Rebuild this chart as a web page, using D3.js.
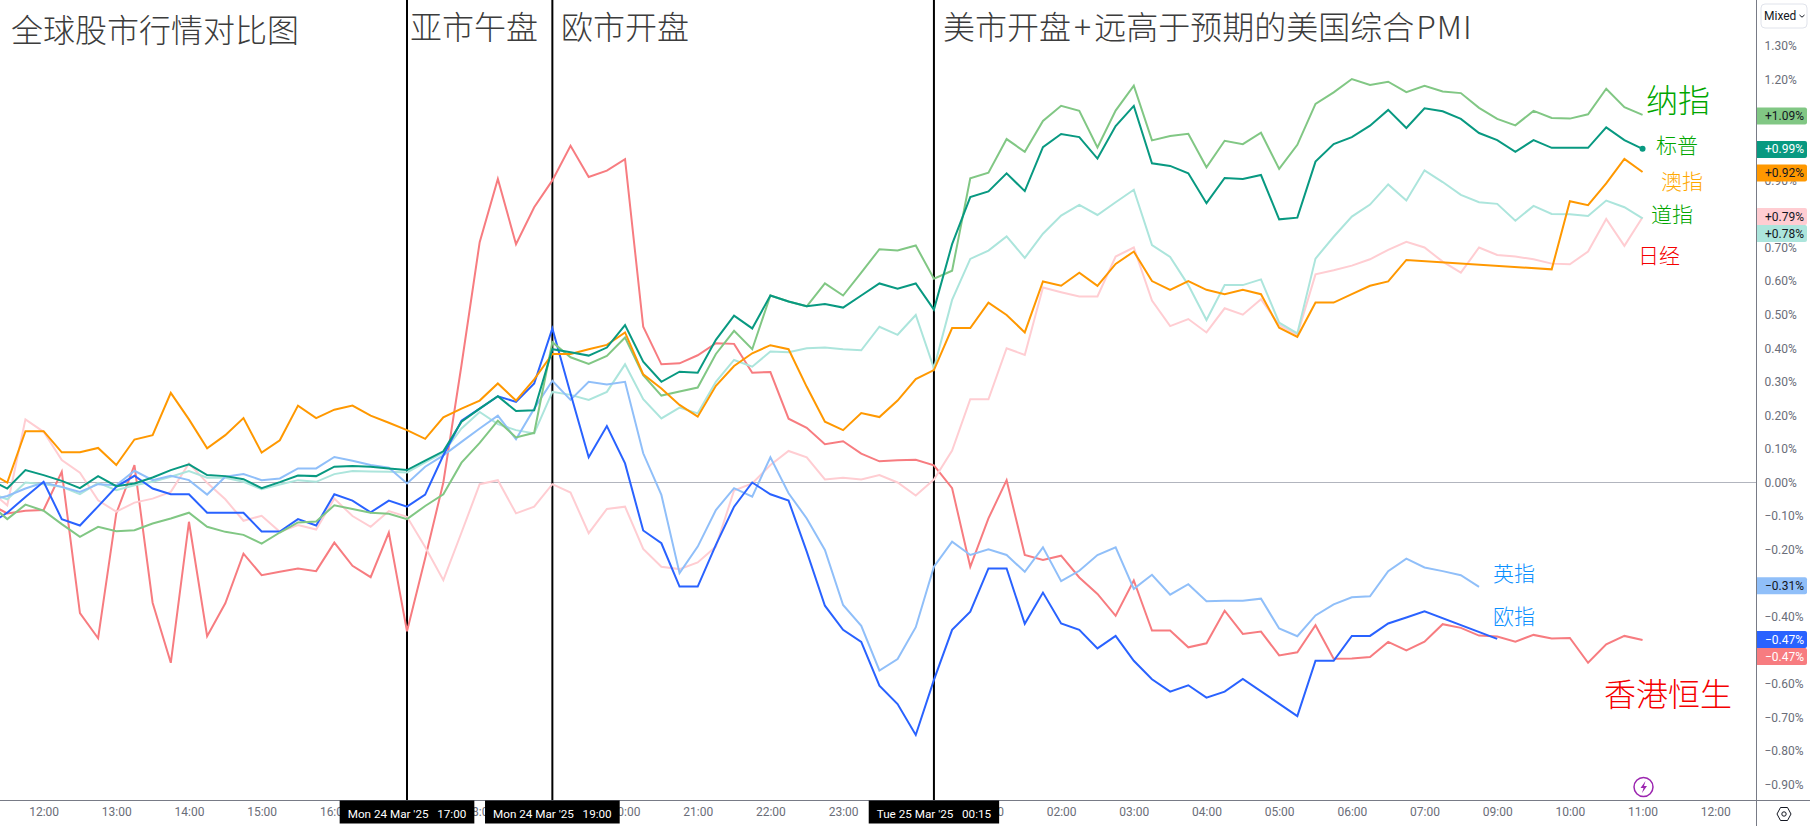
<!DOCTYPE html>
<html><head><meta charset="utf-8">
<script src="https://cdnjs.cloudflare.com/ajax/libs/d3/7.8.5/d3.min.js"></script>
<style>html,body{margin:0;padding:0;background:#fff;overflow:hidden}svg{display:block}</style>
</head><body><svg id="c" width="1810" height="826"></svg>
<script>
// first point of every series sits three 15-minute bars before the 12:00 label
const firstBar = -3;
const hsi = [-.063,-.092,-.084,-.082,.032,-.389,-.464,-.092,.052,-.358,-.537,-.117,-.458,-.36,-.212,-.276,-.266,-.256,-.264,-.179,-.248,-.282,-.149,-.443,-.226,0,.35,.716,.904,.71,.82,.90,1.003,.91,.929,.963,.464,.352,.355,.379,.415,.413,.327,.329,.19,.163,.114,.123,.086,.063,.066,.068,.051,-.017,-.251,-.107,.007,-.216,-.231,-.218,-.283,-.332,-.397,-.292,-.441,-.441,-.491,-.479,-.382,-.451,-.444,-.515,-.506,-.425,-.525,-.524,-.52,-.475,-.50,-.474,-.422,-.433,-.456,-.459,-.474,-.454,-.465,-.463,-.537,-.482,-.457,-.469];
const nikkei = [-.023,-.068,.188,.151,.067,.029,-.053,-.087,-.06,-.048,-.028,.057,-.001,-.05,-.114,-.099,-.147,-.127,-.14,-.048,-.10,-.132,-.085,-.102,-.192,-.291,-.149,-.005,.007,-.092,-.072,-.005,-.03,-.151,-.079,-.072,-.198,-.251,-.258,-.238,-.191,-.024,-.003,.052,.094,.075,.009,.014,.009,.022,0,-.039,.009,.095,.248,.248,.40,.38,.581,.567,.554,.554,.673,.70,.542,.466,.487,.447,.519,.50,.546,.469,.44,.62,.632,.646,.665,.693,.717,.70,.658,.625,.70,.678,.673,.665,.652,.65,.688,.785,.705,.79];
const dow = [-.03,-.05,0,-.005,-.013,-.035,-.001,-.023,-.008,.002,.017,.034,.014,.014,.002,-.02,-.006,.007,.002,.025,.034,.033,.032,.03,.06,.089,.161,.21,.174,.156,.146,.27,.261,.246,.27,.352,.248,.191,.223,.206,.30,.365,.345,.39,.388,.40,.402,.397,.394,.464,.44,.499,.34,.544,.666,.691,.733,.669,.741,.795,.827,.797,.835,.872,.707,.672,.588,.484,.588,.588,.605,.476,.444,.667,.732,.792,.828,.888,.84,.93,.895,.857,.835,.83,.78,.824,.80,.799,.794,.84,.82,.787];
const ftse = [-.053,-.04,-.018,0,-.013,-.028,-.005,-.008,.035,.007,.02,.007,-.036,.017,.025,.007,.012,.042,.042,.076,.065,.052,.044,-.003,.047,.081,.121,.161,.199,.129,.22,.303,.246,.30,.292,.30,.087,-.037,-.27,-.191,-.082,-.017,-.042,.075,-.032,-.107,-.201,-.365,-.427,-.56,-.526,-.431,-.251,-.176,-.216,-.199,-.216,-.266,-.193,-.294,-.263,-.216,-.193,-.317,-.275,-.334,-.303,-.354,-.352,-.352,-.346,-.435,-.458,-.396,-.363,-.342,-.339,-.264,-.227,-.253,-.264,-.276,-.311,null,null,null,null,null,null,null,null,null];
const euro = [-.125,-.09,-.043,.002,-.109,-.128,-.071,-.013,.02,-.018,-.035,-.035,-.09,-.09,-.09,-.146,-.146,-.109,-.128,-.035,-.054,-.089,-.054,-.072,-.036,.081,.184,.22,.257,.24,.295,.459,.265,.075,.168,.057,-.143,-.181,-.31,-.31,-.186,-.072,0,-.035,-.054,-.206,-.367,-.439,-.475,-.605,-.66,-.752,-.588,-.439,-.385,-.256,-.256,-.421,-.328,-.42,-.439,-.494,-.457,-.531,-.586,-.623,-.604,-.641,-.623,-.585,null,null,-.696,-.531,-.531,-.457,-.457,-.42,-.402,-.384,null,null,null,-.466,null,null,null,null,null,null,null,null];
const nasdaq = [-.063,-.109,-.066,-.084,-.124,-.162,-.132,-.145,-.142,-.122,-.107,-.09,-.132,-.147,-.156,-.182,-.149,-.119,-.116,-.068,-.079,-.09,-.093,-.109,-.07,-.035,.059,.118,.184,.134,.148,.418,.373,.353,.377,.432,.32,.259,.271,.283,.383,.452,.397,.557,.539,.525,.593,.557,.625,.695,.691,.706,.607,.631,.906,.923,1.023,.985,1.077,1.122,1.107,.998,1.108,1.182,1.019,1.032,1.039,.939,1.018,1.008,1.042,.934,1.006,1.128,1.162,1.202,1.184,1.194,1.163,1.182,1.165,1.16,1.116,1.083,1.064,1.107,1.086,1.084,1.097,1.173,1.118,1.095];
const asx = [.03,0,.153,.153,.09,.09,.103,.052,.128,.141,.267,.188,.102,.141,.192,.089,.126,.229,.192,.217,.229,.199,.178,.156,.130,.194,.220,.244,.295,.244,.307,.383,.383,.397,.41,.447,.322,.28,.231,.196,.288,.347,.385,.409,.397,.285,.181,.156,.207,.195,.244,.308,.335,.46,.46,.536,.499,.447,.599,.586,.625,.586,.651,.688,.60,.574,.60,.574,.561,.574,.561,.461,.434,.536,.536,.561,.586,.599,.663,null,null,null,null,null,null,null,.635,.838,.826,.891,.964,.925];
const spx = [.01,-.018,.037,.022,.005,-.017,.019,-.011,-.003,.015,.037,.054,.022,.019,.01,-.017,.001,.021,.019,.047,.049,.047,.042,.037,.065,.093,.181,.22,.257,.213,.215,.397,.388,.378,.402,.469,.36,.30,.33,.327,.425,.497,.459,.557,.539,.525,.532,.521,.557,.593,.577,.593,.515,.71,.85,.867,.921,.868,.999,1.038,1.029,.965,1.062,1.122,.951,.943,.921,.832,.907,.904,.916,.784,.789,.956,1.008,1.029,1.063,1.11,1.056,1.115,1.106,1.083,1.041,1.02,.985,1.02,.997,.997,.997,1.058,1.02,.994];

const hourBars = [0,4,8,12,16,24,32,36,40,44,52,56,60,64,68,72,76,80,84,88,92];
const hourLabels = ["12:00","13:00","14:00","15:00","16:00","18:00","20:00","21:00","22:00","23:00","01:00","02:00","03:00","04:00","05:00","06:00","07:00","09:00","10:00","11:00","12:00"];
const priceTicks = [1.3,1.2,.9,.8,.7,.6,.5,.4,.3,.2,.1,0,-.1,-.2,-.4,-.6,-.7,-.8,-.9];
const markerBars = [20,28,49];
const markerLabels = ["Mon 24 Mar '25   17:00","Mon 24 Mar '25   19:00","Tue 25 Mar '25   00:15"];

const series = [
 {name:"HSI", values:hsi, color:"#f77c80", tag:-.47, tagText:"#fff"},
 {name:"NI", values:nikkei, color:"#ffcdd2", tag:.79, tagText:"#131722"},
 {name:"DJ", values:dow, color:"#ace5dc", tag:.78, tagText:"#131722"},
 {name:"FTSE", values:ftse, color:"#90bff9", tag:-.31, tagText:"#131722"},
 {name:"SX5E", values:euro, color:"#2962ff", tag:-.47, tagText:"#fff"},
 {name:"NDX", values:nasdaq, color:"#81c784", tag:1.09, tagText:"#131722"},
 {name:"ASX", values:asx, color:"#ff9800", tag:.92, tagText:"#131722"},
 {name:"SPX", values:spx, color:"#089981", tag:.99, tagText:"#fff"}
];

const W=1810,H=826,paneR=1756.5,paneB=800.5;
const svg=d3.select("#c");
const UI="Roboto, 'Noto Sans', sans-serif";
const CJK="'Noto Sans CJK SC', sans-serif";
const x=d3.scaleLinear().domain([0,92]).range([43.6,43.6+92*18.17]);
const y=d3.scaleLinear().domain([0,1.3]).range([482.5,46.1]);

svg.append("defs").append("clipPath").attr("id","pane").append("rect").attr("x",0).attr("y",0).attr("width",paneR).attr("height",paneB);

// zero line + session markers
svg.append("line").attr("x1",0).attr("x2",paneR).attr("y1",y(0)).attr("y2",y(0)).attr("stroke","#b2b5be").attr("stroke-width",1);
svg.selectAll("line.mark").data(markerBars).join("line").attr("class","mark")
 .attr("x1",d=>x(d)).attr("x2",d=>x(d)).attr("y1",0).attr("y2",paneB).attr("stroke","#000").attr("stroke-width",2);

// series
const line=d3.line().x(d=>x(d.b)).y(d=>y(d.v));
const pane=svg.append("g").attr("clip-path","url(#pane)");
series.forEach(s=>{
  const pts=s.values.map((v,i)=>({b:i+firstBar,v})).filter(d=>d.v!==null);
  pane.append("path").datum(pts).attr("d",line).attr("fill","none").attr("stroke",s.color).attr("stroke-width",2).attr("stroke-linejoin","miter").attr("stroke-miterlimit",4);
  s.pts=pts;
});
const spxLast=series[7].pts[series[7].pts.length-1];
pane.append("circle").attr("cx",x(spxLast.b)).attr("cy",y(spxLast.v)).attr("r",3).attr("fill","#089981");

// annotations
const notes=[
 {t:"全球股市行情对比图",x:11,y:28,s:32,c:"#3c3c3c"},
 {t:"亚市午盘",x:410,y:25,s:32,c:"#3c3c3c"},
 {t:"欧市开盘",x:561,y:25,s:32,c:"#3c3c3c"},
 {t:"纳指",x:1646,y:98,s:32,c:"#00a600"},
 {t:"标普",x:1656,y:144,s:21,c:"#00a600"},
 {t:"澳指",x:1661,y:180,s:21,c:"#ffa800"},
 {t:"道指",x:1651,y:213,s:21,c:"#00a600"},
 {t:"日经",x:1638,y:254,s:21,c:"#f50000"},
 {t:"香港恒生",x:1604,y:692,s:32,c:"#f50000"},
 {t:"英指",x:1493,y:572,s:21,c:"#0a90ff"},
 {t:"欧指",x:1493,y:615,s:21,c:"#0a90ff"}
];
svg.selectAll("text.note").data(notes).join("text").attr("class","note")
 .attr("x",d=>d.x).attr("y",d=>d.y).attr("font-size",d=>d.s).attr("fill",d=>d.c)
 .attr("dominant-baseline","central").attr("font-family",CJK).attr("font-weight",300).text(d=>d.t);
// the Latin glyphs of the long headline ran wider in the reference's font
const head=svg.append("text").attr("x",943).attr("y",25).attr("font-size",32).attr("fill","#3c3c3c")
 .attr("dominant-baseline","central").attr("font-family",CJK).attr("font-weight",300);
head.append("tspan").text("美市开盘");
head.append("tspan").attr("dx",3).style("letter-spacing","3px").text("+");
head.append("tspan").text("远高于预期的美国综合");
head.append("tspan").attr("dx",2).style("letter-spacing","1px").text("PMI");

// frame
svg.append("line").attr("x1",paneR).attr("x2",paneR).attr("y1",0).attr("y2",H).attr("stroke","#787b86").attr("stroke-width",1);
svg.append("line").attr("x1",0).attr("x2",W).attr("y1",paneB).attr("y2",paneB).attr("stroke","#787b86").attr("stroke-width",1);

// time axis
const xAxis=svg.append("g").attr("transform",`translate(0,${paneB})`)
 .call(d3.axisBottom(x).tickValues(hourBars).tickSize(0).tickPadding(7).tickFormat(d=>hourLabels[hourBars.indexOf(d)]));
xAxis.select(".domain").remove();
xAxis.selectAll("text").attr("font-family",UI).attr("font-size",12).attr("fill","#6a6d78");

// price axis (levels fully hidden by a value tag are not drawn)
const fmt=v=>(v<0?"\u2212":"")+Math.abs(v).toFixed(2)+"%";
const yAxis=svg.append("g").attr("transform",`translate(${paneR},0)`)
 .call(d3.axisRight(y).tickValues(priceTicks).tickSize(0).tickPadding(8).tickFormat(fmt));
yAxis.select(".domain").remove();
yAxis.selectAll("text").attr("font-family",UI).attr("font-size",12).attr("fill","#6a6d78");

// last-value tags, pushed apart downward when they would overlap
const tags=series.slice().sort((a,b)=>b.tag-a.tag||(a.name==="SX5E"?-1:1));
let prev=-100;
tags.forEach(s=>{s.ty=Math.max(y(s.tag)-.7,prev+17);prev=s.ty;});
const tg=svg.selectAll("g.tag").data(tags).join("g").attr("class","tag").attr("transform",d=>`translate(${paneR+.5},${d.ty})`);
tg.append("path").attr("d","M0,-8.5H48a2,2 0 0 1 2,2V6.5a2,2 0 0 1 -2,2H0Z").attr("fill",d=>d.color);
tg.append("text").attr("x",8).attr("y",0).attr("dominant-baseline","central").attr("font-family",UI).attr("font-size",12)
 .attr("fill",d=>d.tagText).text(d=>(d.tag<0?"\u2212":"+")+Math.abs(d.tag).toFixed(2)+"%");

// crosshair date boxes, sized to their text
const mk=svg.selectAll("g.box").data(markerBars).join("g").attr("class","box").attr("transform",d=>`translate(${x(d)},${paneB})`);
const bg=mk.append("rect").attr("y",0).attr("height",23).attr("fill","#000");
const bt=mk.append("text").attr("x",0).attr("y",13).attr("text-anchor","middle").attr("dominant-baseline","central").attr("xml:space","preserve")
 .style("white-space","pre").attr("font-family",UI).attr("font-size",11.7).attr("fill","#fff").text((d,i)=>markerLabels[i]);
bt.each(function(d,i){const w=this.getComputedTextLength()+16;d3.select(bg.nodes()[i]).attr("x",-w/2).attr("width",w);});

// Mixed button
svg.append("rect").attr("x",1761).attr("y",4).attr("width",46).attr("height",24).attr("rx",4).attr("fill","#fff").attr("stroke","#e0e3eb");
svg.append("text").attr("x",1764).attr("y",16).attr("dominant-baseline","central").attr("font-family",UI).attr("font-size",12).attr("fill","#131722").text("Mixed");
svg.append("path").attr("d","M1799.5,15l2.5,2.2l2.5,-2.2").attr("fill","none").attr("stroke","#131722").attr("stroke-width",1);

// gear
svg.append("path").attr("d","M1777,814l3.5,-6.5h7l3.5,6.5l-3.5,6.5h-7Z").attr("fill","none").attr("stroke","#131722").attr("stroke-width",1);
svg.append("circle").attr("cx",1784).attr("cy",814).attr("r",2.2).attr("fill","none").attr("stroke","#131722").attr("stroke-width",1);

// event icon
svg.append("circle").attr("cx",1643.5).attr("cy",787).attr("r",9.5).attr("fill","#fff").attr("stroke","#9c27b0").attr("stroke-width",1.5);
svg.append("path").attr("d","M1645.5,781l-5,7h3l-1.5,5l5,-7h-3Z").attr("fill","#9c27b0");
</script></body></html>
